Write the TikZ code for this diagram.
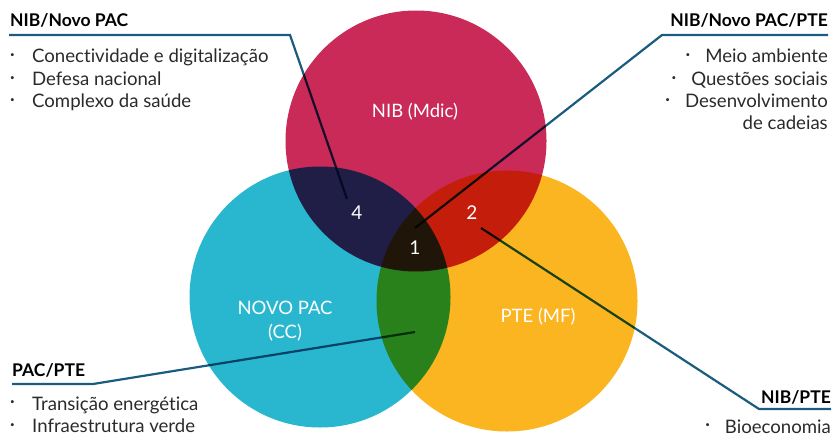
\documentclass[tikz,border=0pt]{standalone}
\usepackage{fontspec}
\setmainfont{Lato}[Ligatures={NoCommon}]
\definecolor{nibred}{HTML}{C92A57}
\definecolor{paccyan}{HTML}{29B7D0}
\definecolor{pteyellow}{HTML}{FBB521}
\definecolor{leader}{HTML}{1B5C7E}
\definecolor{bodytext}{HTML}{2A2A2A}
\newcommand{\bul}{\raisebox{0.28em}{\fontsize{8}{8}\selectfont\textbullet}}
\newcommand{\litem}[1]{\makebox[22pt][l]{\bul}#1}
\newcommand{\ritem}[1]{\bul\hspace{15pt}#1}
\begin{document}
\begin{tikzpicture}[x=1pt,y=-1pt,
  setdisc/.style={circle, fill=#1, minimum size=261pt, inner sep=0pt},
  leaderline/.style={draw=leader, line width=2.2pt},
  title/.style={font=\fontsize{17.5}{21}\selectfont\bfseries, text=black, inner sep=0pt},
  body/.style={font=\fontsize{18.6}{22.3}\selectfont, text=bodytext, inner sep=0pt},
  inlabel/.style={font=\fontsize{18.5}{21}\selectfont, text=white, align=center, inner sep=0pt},
  numlabel/.style={font=\fontsize{19}{21}\selectfont, text=white, inner sep=0pt}]
\useasboundingbox (0,0) rectangle (834,436);

% anchor points of the leader lines
\coordinate (p4) at (347,199);
\coordinate (p1) at (415,228);
\coordinate (p2) at (481,228);
\coordinate (p3) at (415,332);
\coordinate (tlA) at (9,35);   \coordinate (tlB) at (290,35);
\coordinate (trA) at (828,35); \coordinate (trB) at (662,35);
\coordinate (blA) at (12,384); \coordinate (blB) at (93,384);
\coordinate (brA) at (831,409);\coordinate (brB) at (759,409);

% three sets, overlapping colours come from multiplying
\begin{scope}[blend group=multiply]
  \node[setdisc=nibred]    (nib) at (416,141) {};
  \node[setdisc=paccyan]   (pac) at (320,297) {};
  \node[setdisc=pteyellow] (pte) at (507,301) {};
  \draw[leaderline] (tlA) -- (tlB) -- (p4);
  \draw[leaderline] (trA) -- (trB) -- (p1);
  \draw[leaderline] (blA) -- (blB) -- (p3);
  \draw[leaderline] (brA) -- (brB) -- (p2);
\end{scope}

% set names
\node[inlabel] (nibname) at (415,112) {NIB (Mdic)};
\node[inlabel, font=\fontsize{18.5}{24}\selectfont] (pacname) at (285,321) {NOVO PAC\\(CC)};
\node[inlabel] (ptename) at (538,317) {PTE (MF)};

% region numbers
\node[numlabel] (n4) at (357,213) {4};
\node[numlabel] (n1) at (415,248) {1};
\node[numlabel] (n2) at (472,213) {2};

% top left
\node[title, anchor=base west] (tltitle) at (10,27) {NIB/Novo PAC};
\node[body, anchor=base west] (tllist) at (10,63) {\begin{tabular}[t]{@{}l@{}}
  \litem{Conectividade e digitalização}\\
  \litem{Defesa nacional}\\
  \litem{Complexo da saúde}\end{tabular}};

% top right
\node[title, anchor=base east] (trtitle) at (828,27) {NIB/Novo PAC/PTE};
\node[body, anchor=base east] (trlist) at (828,63) {\begin{tabular}[t]{@{}r@{}}
  \ritem{Meio ambiente}\\
  \ritem{Questões sociais}\\
  \ritem{Desenvolvimento}\\
  de cadeias\end{tabular}};

% bottom left
\node[title, anchor=base west] (bltitle) at (12,376) {PAC/PTE};
\node[body, anchor=base west] (bllist) at (10,410) {\begin{tabular}[t]{@{}l@{}}
  \litem{Transição energética}\\
  \litem{Infraestrutura verde}\end{tabular}};

% bottom right
\node[title, anchor=base east] (brtitle) at (831,403) {NIB/PTE};
\node[body, anchor=base east] (brlist) at (831,433) {\ritem{Bioeconomia}};
\end{tikzpicture}
\end{document}
